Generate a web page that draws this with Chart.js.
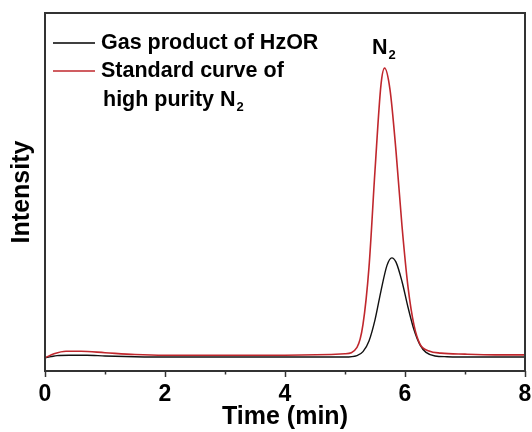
<!DOCTYPE html>
<html>
<head>
<meta charset="utf-8">
<script src="https://cdn.jsdelivr.net/npm/chart.js@4/dist/chart.umd.min.js"></script>
<style>
  html, body { margin: 0; padding: 0; background: #fff; }
  #wrap { width: 532px; height: 432px; }
</style>
</head>
<body>
<div id="wrap"><canvas id="gcChart" width="532" height="432"></canvas></div>
<script>
// retention time (min) and detector intensity (a.u.)
const timeGas = [0, 0.1, 0.2, 0.4, 0.7, 1.0, 1.5, 2.0, 3.0, 4.0, 5.0, 5.2, 5.3, 5.4, 5.5, 5.6, 5.7, 5.78, 5.85, 5.95, 6.05, 6.15, 6.25, 6.35, 6.5, 6.7, 7.0, 7.5, 8.0];
const gasProduct = [3.7, 4.0, 4.3, 4.4, 4.4, 4.2, 4.0, 3.9, 3.9, 3.9, 3.9, 4.3, 5.4, 8.4, 14.3, 22.4, 29.5, 31.6, 30.4, 25.0, 17.8, 11.5, 7.3, 5.2, 4.2, 4.0, 3.9, 3.9, 3.9];

const timeStd = [0, 0.15, 0.35, 0.6, 1.0, 1.5, 2.0, 3.0, 4.0, 5.0, 5.2, 5.3, 5.4, 5.5, 5.6, 5.66, 5.75, 5.85, 5.95, 6.05, 6.15, 6.25, 6.4, 6.6, 7.0, 7.5, 8.0];
const standardN2 = [3.7, 4.8, 5.5, 5.5, 5.1, 4.6, 4.4, 4.4, 4.4, 4.8, 6.6, 13.0, 29.0, 56.0, 80.0, 84.6, 78.6, 61.4, 40.5, 23.5, 12.8, 7.5, 5.6, 5.0, 4.7, 4.5, 4.5];

const xTicks = [0, 2, 4, 6, 8];
const xMinorTicks = [1, 3, 5, 7];

const FONT = '"Liberation Sans", Arial, sans-serif';

function toPoints(xs, ys) {
  return xs.map((x, i) => ({ x: x, y: ys[i] }));
}

// frame, minor ticks, legend and the N2 peak label
const decorPlugin = {
  id: 'decor',
  afterDraw(chart) {
    const ctx = chart.ctx;
    const a = chart.chartArea;
    const xs = chart.scales.x;
    ctx.save();

    ctx.strokeStyle = '#333';
    ctx.lineWidth = 2;
    ctx.strokeRect(a.left, a.top, a.right - a.left, a.bottom - a.top);

    ctx.lineWidth = 1.5;
    ctx.beginPath();
    xMinorTicks.forEach(v => {
      const px = Math.round(xs.getPixelForValue(v)) + 0.5;
      ctx.moveTo(px, a.bottom);
      ctx.lineTo(px, a.bottom + 3.5);
    });
    ctx.stroke();

    // legend
    ctx.fillStyle = '#000';
    ctx.font = 'bold 21.5px ' + FONT;
    ctx.textBaseline = 'middle';
    ctx.textAlign = 'left';
    const rows = [
      { y: 43, color: '#000', text: 'Gas product of HzOR' },
      { y: 71, color: '#c0272d', text: 'Standard curve of' }
    ];
    rows.forEach(r => {
      ctx.strokeStyle = r.color;
      ctx.lineWidth = 1.5;
      ctx.beginPath();
      ctx.moveTo(53, r.y);
      ctx.lineTo(95, r.y);
      ctx.stroke();
      ctx.fillText(r.text, 101, r.y);
    });
    ctx.fillText('high purity N', 103, 100);
    let w = ctx.measureText('high purity N').width;
    ctx.font = 'bold 13px ' + FONT;
    ctx.fillText('2', 103 + w + 1, 107);

    // peak label
    ctx.font = 'bold 21.5px ' + FONT;
    ctx.fillText('N', 372, 48);
    w = ctx.measureText('N').width;
    ctx.font = 'bold 13px ' + FONT;
    ctx.fillText('2', 372 + w + 1, 55);

    ctx.restore();
  }
};

new Chart(document.getElementById('gcChart'), {
  type: 'line',
  data: {
    datasets: [
      {
        label: 'Standard curve of high purity N2',
        data: toPoints(timeStd, standardN2),
        borderColor: '#c0272d',
        borderWidth: 1.6,
        pointRadius: 0,
        cubicInterpolationMode: 'monotone',
        fill: false
      },
      {
        label: 'Gas product of HzOR',
        data: toPoints(timeGas, gasProduct),
        borderColor: '#111',
        borderWidth: 1.4,
        pointRadius: 0,
        cubicInterpolationMode: 'monotone',
        fill: false
      }
    ]
  },
  options: {
    responsive: false,
    animation: false,
    events: [],
    layout: { padding: { top: 13, right: 7, left: 0, bottom: 0 } },
    plugins: {
      legend: { display: false },
      tooltip: { enabled: false }
    },
    scales: {
      x: {
        type: 'linear',
        min: 0,
        max: 8,
        afterFit: s => { s.height = 61; s.paddingLeft = 0; s.paddingRight = 0; },
        afterBuildTicks: s => { s.ticks = xTicks.map(v => ({ value: v })); },
        grid: { drawOnChartArea: false, tickLength: 6, tickWidth: 1.5, tickColor: '#333' },
        border: { display: false },
        ticks: {
          color: '#000',
          padding: 4,
          maxRotation: 0,
          font: { family: FONT, size: 23, weight: 'bold' }
        },
        title: {
          display: true,
          text: 'Time (min)',
          color: '#000',
          padding: { bottom: 0 },
          font: { family: FONT, size: 25, weight: 'bold', lineHeight: 1.2 }
        }
      },
      y: {
        min: 0,
        max: 100,
        afterFit: s => { s.width = 45; },
        grid: { display: false },
        border: { display: false },
        ticks: { display: false },
        title: {
          display: true,
          text: 'Intensity',
          color: '#000',
          padding: { top: 7 },
          font: { family: FONT, size: 25, weight: 'bold', lineHeight: 1.2 }
        }
      }
    }
  },
  plugins: [decorPlugin]
});
</script>
</body>
</html>
